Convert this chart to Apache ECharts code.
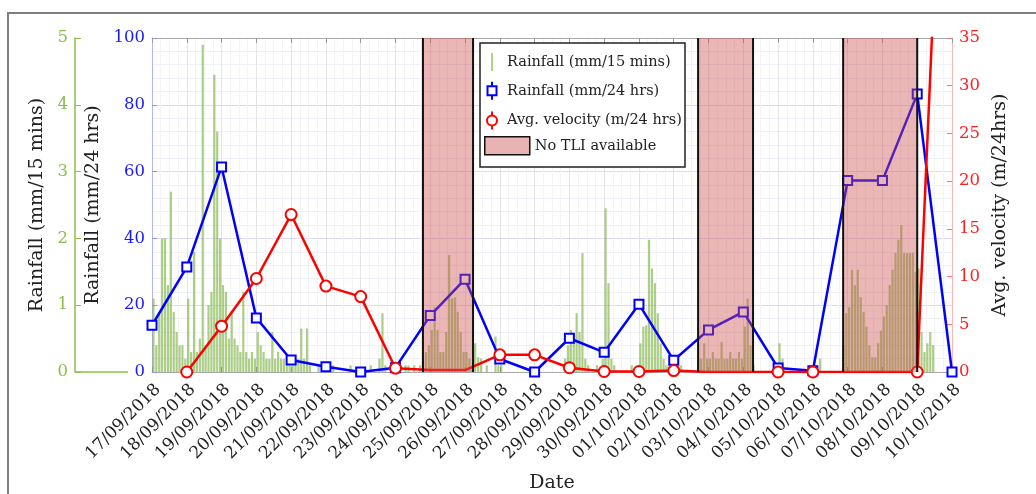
<!DOCTYPE html>
<html>
<head>
<meta charset="utf-8">
<title>Rainfall and TLI velocity</title>
<script src="https://cdn.jsdelivr.net/npm/echarts@6/dist/echarts.min.js"></script>
<style>
  html, body { margin: 0; padding: 0; background: #fff; }
  #chart { width: 1036px; height: 494px; }
</style>
</head>
<body>
<div id="chart"></div>
<script>
// x axis: one tick per day
var dates = ['17/09/2018', '18/09/2018', '19/09/2018', '20/09/2018', '21/09/2018', '22/09/2018',
  '23/09/2018', '24/09/2018', '25/09/2018', '26/09/2018', '27/09/2018', '28/09/2018',
  '29/09/2018', '30/09/2018', '01/10/2018', '02/10/2018', '03/10/2018', '04/10/2018',
  '05/10/2018', '06/10/2018', '07/10/2018', '08/10/2018', '09/10/2018', '10/10/2018'];

// daily rainfall (mm/24 hrs), one per date
var rain24 = [14, 31.4, 61.4, 16.2, 3.6, 1.6, 0, 1.3, 16.9, 27.8, 3.9, 0,
  10.1, 5.9, 20.3, 3.5, 12.6, 18.0, 1.2, 0.4, 57.3, 57.3, 83.2, 0];

// average velocity (m/24 hrs), first date has none
var velocity = [null, 0, 4.8, 9.8, 16.5, 9.0, 7.9, 0.4, 0.2, 0.2, 1.8, 1.8,
  0.45, 0.05, 0.05, 0.15, 0, 0, 0, 0, 0, 0, 0, 83];

// days without TLI reading: velocity drawn without a marker
var noTliDays = [8, 9, 16, 17, 20, 21];

// shaded "No TLI available" periods, in day units from 17/09
var noTli = [[7.79, 9.23], [15.70, 17.28], [19.87, 22.0]];

// rainfall (mm/15 mins), peak in each 2-hour slot, 12 slots per day
var rain15 = [
  [1.1, 0.4, 0.9, 2.0, 2.0, 1.3, 2.7, 0.9, 0.6, 0.4, 0.4, 0.2],
  [1.1, 0.3, 1.8, 0.3, 0.5, 4.9, 0.4, 1.0, 1.2, 4.45, 3.6, 2.0],
  [1.3, 1.2, 0.5, 0.9, 0.5, 0.4, 0.3, 1.2, 0.3, 0.2, 0.3, 0.2],
  [0.6, 0.4, 0.3, 0.2, 0.2, 0.6, 0.2, 0.3, 0.2, 0.2, 0.1, 0.1],
  [0.1, 0.2, 0.2, 0.65, 0.2, 0.65, 0.1, 0, 0, 0.1, 0, 0],
  [0, 0, 0.1, 0, 0, 0, 0, 0, 0.1, 0, 0, 0],
  [0, 0, 0, 0.1, 0, 0, 0.2, 0.88, 0.1, 0, 0, 0],
  [0, 0, 0, 0.1, 0.1, 0, 0.1, 0, 0.1, 0.2, 0.3, 0.4],
  [0.63, 0.97, 0.63, 0.3, 0.3, 0.6, 1.75, 1.1, 1.12, 0.9, 0.6, 0.3],
  [0.3, 0.2, 0.1, 0.43, 0.22, 0.2, 0, 0.1, 0, 0, 0.53, 0.1],
  [0.1, 0, 0, 0, 0, 0, 0, 0, 0, 0, 0, 0],
  [0, 0, 0, 0, 0, 0, 0, 0, 0, 0, 0.2, 0.4],
  [0.63, 0.5, 0.88, 0.6, 1.78, 0.2, 0.1, 0, 0, 0.1, 0, 0.2],
  [2.45, 1.33, 0.2, 0.1, 0, 0, 0, 0, 0, 0.1, 0, 0],
  [0.43, 0.68, 0.7, 1.98, 1.55, 1.33, 0.88, 0.43, 0.2, 0.1, 0, 0.1],
  [0, 0, 0.1, 0, 0, 0, 0, 0, 0.2, 0.2, 0.43, 0.2],
  [0.2, 0.3, 0.2, 0.2, 0.45, 0.2, 0.2, 0.3, 0.2, 0.2, 0.3, 0.2],
  [0.68, 1.1, 0.4, 0.1, 0, 0, 0, 0, 0, 0, 0, 0],
  [0.43, 0.2, 0, 0, 0, 0, 0, 0, 0, 0, 0, 0],
  [0, 0, 0.2, 0, 0, 0, 0, 0, 0, 0, 0.4, 0.88],
  [0.97, 1.53, 1.3, 1.53, 1.12, 0.9, 0.68, 0.4, 0.22, 0.22, 0.43, 0.62],
  [0.83, 1.0, 1.3, 1.53, 1.78, 1.98, 2.2, 1.78, 1.78, 1.78, 1.78, 1.5],
  [1.55, 0.6, 0.3, 0.43, 0.6, 0.4, 0, 0, 0, 0, 0, 0]
];

var serif = 'DejaVu Serif';
var green = '#8cbf4a';

var barData = [];
rain15.forEach(function (day, d) {
  day.forEach(function (v, k) {
    if (v > 0) barData.push([d + (k + 0.5) / 12, v]);
  });
});
var rainLine = rain24.map(function (v, i) { return [i, v]; });
var velLine = [];
velocity.forEach(function (v, i) {
  if (v === null) return;
  if (noTliDays.indexOf(i) >= 0) velLine.push({ value: [i, v], symbol: 'none' });
  else velLine.push([i, v]);
});

var chart = echarts.init(document.getElementById('chart'), null, { renderer: 'canvas' });

var option = {
  animation: false,
  grid: { left: 152, right: 84, top: 38, bottom: 122, outerBoundsMode: 'none', containLabel: false },
  xAxis: [{
    type: 'value', min: 0, max: 23, interval: 1, position: 'bottom',
    name: 'Date', nameLocation: 'middle', nameGap: 102,
    nameTextStyle: { fontFamily: serif, fontSize: 19, color: '#222' },
    axisLine: { show: true, onZero: false, lineStyle: { color: '#a8a8a8' } },
    axisTick: { inside: true, length: 5, lineStyle: { color: '#999' } },
    axisLabel: {
      rotate: 45, margin: 9, verticalAlign: 'top', fontFamily: serif, fontSize: 17, color: '#222',
      formatter: function (v) { return dates[v] || ''; }
    },
    splitLine: { show: true, lineStyle: { color: '#e4e4e4' } },
    minorTick: { show: false, splitNumber: 4 },
    minorSplitLine: { show: true, lineStyle: { color: '#f3f3f3' } }
  }, {
    type: 'value', min: 0, max: 23, interval: 1, position: 'top',
    axisLine: { show: true, onZero: false, lineStyle: { color: '#a8a8a8' } },
    axisTick: { inside: true, length: 5, lineStyle: { color: '#999' } },
    axisLabel: { show: false },
    splitLine: { show: false }
  }],
  yAxis: [{
    type: 'value', position: 'left', offset: 77, min: 0, max: 5, interval: 1,
    name: 'Rainfall (mm/15 mins)', nameLocation: 'middle', nameGap: 28, nameRotate: 90,
    nameTextStyle: { fontFamily: serif, fontSize: 19, color: '#222' },
    axisLine: { show: true, onZero: false, lineStyle: { color: green, width: 1.5 } },
    axisTick: { show: true, inside: true, length: 6, lineStyle: { color: green } },
    axisLabel: { fontFamily: serif, fontSize: 16.5, color: green, margin: 7 },
    splitLine: { show: false }
  }, {
    type: 'value', position: 'left', min: 0, max: 100, interval: 20,
    name: 'Rainfall (mm/24 hrs)', nameLocation: 'middle', nameGap: 37, nameRotate: 90,
    nameTextStyle: { fontFamily: serif, fontSize: 19, color: '#222' },
    axisLine: { show: true, onZero: false, lineStyle: { color: '#b4b4ff' } },
    axisTick: { show: true, inside: true, length: 5, lineStyle: { color: '#9090ff' } },
    axisLabel: { fontFamily: serif, fontSize: 16.5, color: '#1a1aff', margin: 7 },
    splitLine: { show: true, lineStyle: { color: '#dcdcf8' } },
    minorTick: { show: false, splitNumber: 5 },
    minorSplitLine: { show: true, lineStyle: { color: '#f0f0fb' } }
  }, {
    type: 'value', position: 'right', min: 0, max: 35, interval: 5,
    name: 'Avg. velocity (m/24hrs)', nameLocation: 'middle', nameGap: 38, nameRotate: 90,
    nameTextStyle: { fontFamily: serif, fontSize: 19, color: '#222' },
    axisLine: { show: true, onZero: false, lineStyle: { color: '#ffb4b4' } },
    axisTick: { show: true, inside: true, length: 5, lineStyle: { color: '#ff7070' } },
    axisLabel: { fontFamily: serif, fontSize: 16.5, color: '#ff2020', margin: 7 },
    splitLine: { show: false }
  }],
  legend: [{
    orient: 'vertical', left: 481, top: 53, padding: 0, z: 20,
    itemWidth: 20, itemHeight: 18, itemGap: 9.8, selectedMode: false,
    textStyle: { fontFamily: serif, fontSize: 14.5, color: '#222' },
    data: [
      { name: 'Rainfall (mm/15 mins)', icon: 'path://M0,0M20,18M9.3,0h1.4v18h-1.4z',
        itemStyle: { color: green, borderWidth: 0, opacity: 1 } },
      { name: 'Rainfall (mm/24 hrs)', icon: 'path://M0,0M20,18M5.5,4.5h9v9h-9zM10,0v4.5M10,13.5v4.5',
        itemStyle: { color: 'rgba(0,0,0,0)', borderColor: '#0000ff', borderWidth: 2 } },
      { name: 'Avg. velocity (m/24 hrs)', icon: 'path://M0,0M20,18M15,9A5,5,0,1,1,5,9A5,5,0,1,1,15,9zM10,0v4M10,14v4',
        itemStyle: { color: 'rgba(0,0,0,0)', borderColor: '#ff0000', borderWidth: 2 } }
    ]
  }, {
    orient: 'vertical', left: 484, top: 136, padding: 0, z: 20,
    itemWidth: 45, itemHeight: 18, selectedMode: false,
    textStyle: { fontFamily: serif, fontSize: 14.5, color: '#222' },
    data: [{ name: 'No TLI available', icon: 'rect',
      itemStyle: { color: '#e9b3b3', borderColor: '#111', borderWidth: 1.5 } }]
  }],
  graphic: [
    { type: 'rect', z: 0, shape: { x: 8, y: 13, width: 1200, height: 700 },
      style: { fill: 'none', stroke: '#808080', lineWidth: 2 } },
    { type: 'line', z: 1, shape: { x1: 75, y1: 372, x2: 128, y2: 372 },
      style: { stroke: green, lineWidth: 1.5 } },
    { type: 'rect', z: 15, shape: { x: 480, y: 43, width: 205, height: 124 },
      style: { fill: '#fff', stroke: '#222', lineWidth: 1.5 } }
  ],
  series: [{
    name: 'Rainfall (mm/15 mins)', type: 'bar', xAxisIndex: 0, yAxisIndex: 0,
    data: barData, barWidth: 2.2, z: 2,
    itemStyle: { color: 'rgba(112,170,48,0.58)' }
  }, {
    name: 'Rainfall (mm/24 hrs)', type: 'line', xAxisIndex: 0, yAxisIndex: 1,
    data: rainLine, symbol: 'emptyRect', symbolSize: 9, clip: false, z: 4,
    lineStyle: { color: '#0000ff', width: 2.5 },
    itemStyle: { color: '#0000ff', borderWidth: 2 }
  }, {
    name: 'Avg. velocity (m/24 hrs)', type: 'line', xAxisIndex: 0, yAxisIndex: 2,
    data: velLine, symbol: 'emptyCircle', symbolSize: 11, clip: true, z: 4,
    lineStyle: { color: '#ff0000', width: 2.5 },
    itemStyle: { color: '#ff0000', borderWidth: 2 }
  }, {
    name: 'No TLI available', type: 'custom', xAxisIndex: 0, yAxisIndex: 1,
    data: noTli, z: 6, encode: { x: [0, 1] },
    itemStyle: { color: '#e9b3b3' },
    renderItem: function (params, api) {
      var a = api.coord([api.value(0), 0]);
      var b = api.coord([api.value(1), 100]);
      return {
        type: 'group',
        children: [
          { type: 'rect', shape: { x: a[0], y: b[1], width: b[0] - a[0], height: a[1] - b[1] },
            style: { fill: 'rgba(205,80,80,0.42)' } },
          { type: 'line', shape: { x1: a[0], y1: a[1], x2: a[0], y2: b[1] },
            style: { stroke: '#111', lineWidth: 2 } },
          { type: 'line', shape: { x1: b[0], y1: a[1], x2: b[0], y2: b[1] },
            style: { stroke: '#111', lineWidth: 2 } }
        ]
      };
    }
  }]
};

chart.setOption(option);
</script>
</body>
</html>
